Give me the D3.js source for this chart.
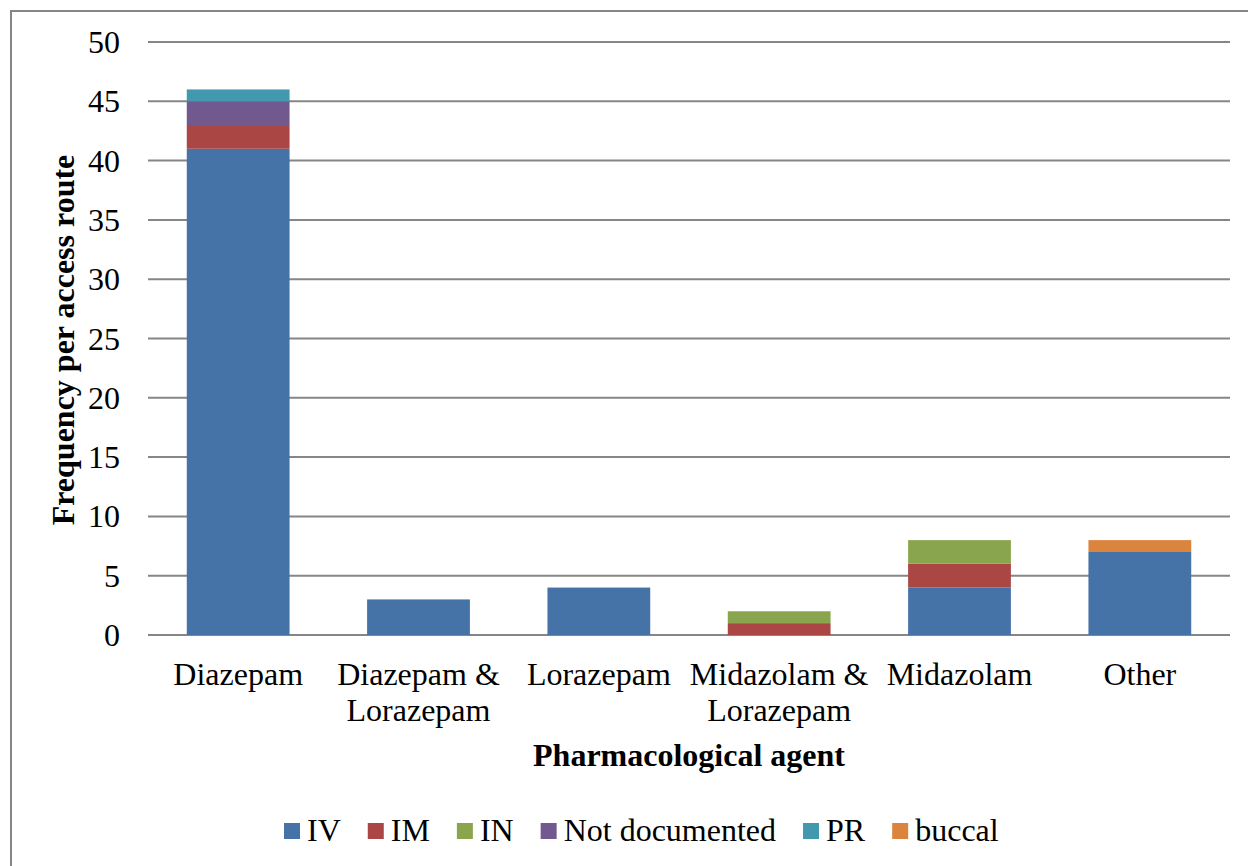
<!DOCTYPE html>
<html><head><meta charset="utf-8">
<script src="https://cdn.jsdelivr.net/npm/d3@7"></script>
<style>body{margin:0;background:#fff;} svg{display:block;}</style>
</head><body>
<svg id="c" width="1248" height="866"></svg>
<script>
const categories = [["Diazepam"],["Diazepam &","Lorazepam"],["Lorazepam"],["Midazolam &","Lorazepam"],["Midazolam"],["Other"]];
const seriesNames = ["IV","IM","IN","Not documented","PR","buccal"];
const seriesColors = ["#4572A7","#AA4643","#89A54E","#71588F","#4198AF","#DB843D"];
const IV = [41,3,4,0,4,7];
const IM = [2,0,0,1,2,0];
const IN = [0,0,0,1,2,0];
const NotDocumented = [2,0,0,0,0,0];
const PR = [1,0,0,0,0,0];
const buccal = [0,0,0,0,0,1];
const yTicks = [0,5,10,15,20,25,30,35,40,45,50];

const seriesVals = [IV,IM,IN,NotDocumented,PR,buccal];
const rows = categories.map((c,i)=>{const r={key:i}; seriesNames.forEach((s,j)=>r[s]=seriesVals[j][i]); return r;});
const stack = d3.stack().keys(seriesNames)(rows);

const svg = d3.select("#c");
const font = "'Liberation Serif','Times New Roman',serif";
const fs = 32;
svg.append("rect").attr("x",11).attr("y",11).attr("width",1300).attr("height",900)
  .attr("fill","none").attr("stroke","#868686").attr("stroke-width",2);

const L=148,R=1230,T=42,B=635;
const x = d3.scaleBand().domain(d3.range(categories.length)).range([L,R]).padding(0);
const y = d3.scaleLinear().domain([0,50]).range([B,T]);
const bw = x.bandwidth()*0.57;

const g = svg.append("g");
g.selectAll("line.grid").data(yTicks).join("line")
  .attr("x1",L).attr("x2",R).attr("y1",d=>y(d)).attr("y2",d=>y(d))
  .attr("stroke","#868686").attr("stroke-width",2);

g.selectAll("g.s").data(stack).join("g").attr("fill",(d,i)=>seriesColors[i])
  .selectAll("rect").data(d=>d.filter(p=>p[1]>p[0])).join("rect")
  .attr("x",d=>x(d.data.key)+(x.bandwidth()-bw)/2).attr("width",bw)
  .attr("y",d=>y(d[1])).attr("height",d=>y(d[0])-y(d[1]));

const yAxis = d3.axisLeft(y).tickValues(yTicks).tickSize(0).tickPadding(28);
const ya = svg.append("g").attr("transform",`translate(${L},0)`).call(yAxis);
ya.select(".domain").remove();
ya.selectAll("text").attr("font-family",font).attr("font-size",fs).attr("fill","#000").attr("dy","0.33em");

const xAxis = d3.axisBottom(x).tickSize(0).tickFormat(()=>"");
const xa = svg.append("g").attr("transform",`translate(0,${B})`).call(xAxis);
xa.select(".domain").remove();
xa.selectAll(".tick").each(function(d){
  const t=d3.select(this).append("text").attr("font-family",font).attr("font-size",fs).attr("fill","#000").attr("text-anchor","middle");
  categories[d].forEach((ln,k)=>t.append("tspan").attr("x",0).attr("y",50+k*36).text(ln));
});

svg.append("text").attr("x",(L+R)/2).attr("y",766).attr("text-anchor","middle")
  .attr("font-family",font).attr("font-size",fs).attr("font-weight","bold").text("Pharmacological agent");
svg.append("text").attr("transform","translate(74,340) rotate(-90)").attr("text-anchor","middle")
  .attr("font-family",font).attr("font-size",fs).attr("font-weight","bold").text("Frequency per access route");

const lg = svg.append("g").attr("transform","translate(284,831)");
let cx=0;
seriesNames.forEach((s,i)=>{
  const it = lg.append("g").attr("transform",`translate(${cx},0)`);
  it.append("rect").attr("x",0).attr("y",-8).attr("width",16).attr("height",16).attr("fill",seriesColors[i]);
  const t = it.append("text").attr("x",23).attr("y",10).attr("font-family",font).attr("font-size",fs).text(s);
  cx += 23 + t.node().getComputedTextLength() + 27;
});
</script>
</body></html>
